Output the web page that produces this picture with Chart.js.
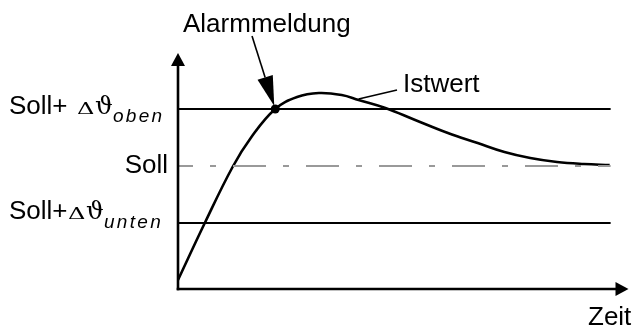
<!DOCTYPE html>
<html><head><meta charset="utf-8">
<script src="https://cdn.jsdelivr.net/npm/chart.js@4/dist/chart.umd.min.js"></script>
<style>html,body{margin:0;padding:0;background:#fff;}#wrap{width:633px;height:329px;position:relative;}</style>
</head><body><div id="wrap"><canvas id="c" width="633" height="329"></canvas></div>
<script>
// Schematic data (arbitrary units)
const timeValues     = [0, 27, 55, 74, 98, 120, 142, 165, 182, 209, 239, 272, 302, 329, 355, 382, 409, 435];
const istwertValues  = [9, 66, 122, 152, 180, 192, 196, 194, 189, 181, 169, 156, 146, 137, 131, 127, 125, 124];
const levelNames     = ['Soll+ Δϑoben', 'Soll', 'Soll+Δϑunten'];
const levelValues    = [180, 123, 66];
const levelEnd       = [0, 436];
const alarmPoint     = [98, 180];
const axisMax        = [454, 236];
const curveLabel     = 'Istwert';
const alarmLabel     = 'Alarmmeldung';
const timeLabel      = 'Zeit';

const SANS = '"Liberation Sans", Arial, sans-serif';
const SERIF = '"DejaVu Serif", "Liberation Serif", serif';

function levelDataset(v, i) {
  const isSoll = i === 1;
  return {
    label: levelNames[i],
    data: levelEnd.map(x => ({x, y: v})),
    showLine: true, pointRadius: 0,
    borderColor: isSoll ? '#999999' : '#000000',
    borderWidth: 2.2,
    borderDash: isSoll ? [33, 17, 6, 17] : [],
    borderDashOffset: isSoll ? 18 : 0,
    borderCapStyle: 'butt'
  };
}

const decor = {
  id: 'decor',
  afterDatasetsDraw(chart) {
    const {ctx, scales: {x, y}} = chart;
    ctx.save();
    ctx.fillStyle = '#000'; ctx.strokeStyle = '#000';
    // axes
    const x0 = x.getPixelForValue(0), y0 = y.getPixelForValue(0);
    const xe = x.getPixelForValue(axisMax[0]), ye = y.getPixelForValue(axisMax[1]);
    ctx.lineWidth = 2.6; ctx.lineCap = 'butt';
    ctx.beginPath(); ctx.moveTo(x0, y0 + 1.3); ctx.lineTo(x0, ye + 10); ctx.stroke();
    ctx.beginPath(); ctx.moveTo(x0 - 1.3, y0); ctx.lineTo(xe - 10, y0); ctx.stroke();
    ctx.beginPath(); ctx.moveTo(x0, ye); ctx.lineTo(x0 - 7, ye + 13); ctx.lineTo(x0 + 7, ye + 13); ctx.closePath(); ctx.fill();
    ctx.beginPath(); ctx.moveTo(xe, y0); ctx.lineTo(xe - 13, y0 - 7); ctx.lineTo(xe - 13, y0 + 7); ctx.closePath(); ctx.fill();

    // level labels
    const yo = y.getPixelForValue(levelValues[0]);
    const ys = y.getPixelForValue(levelValues[1]);
    const yu = y.getPixelForValue(levelValues[2]);
    function greek(xD, base) {
      ctx.save();
      ctx.font = '22px ' + SERIF;
      ctx.translate(xD, base); ctx.scale(1.1, 0.78);
      ctx.textAlign = 'left'; ctx.textBaseline = 'alphabetic';
      ctx.fillText('Δ', 0, 0);
      ctx.restore();
      ctx.font = '25px ' + SERIF;
      ctx.fillText('ϑ', xD + 18, base);
    }
    ctx.textAlign = 'left'; ctx.textBaseline = 'alphabetic';
    ctx.font = '26px ' + SANS;
    ctx.fillText('Soll+', 9, yo + 5);
    greek(77, yo + 5);
    ctx.font = 'italic 19px ' + SANS;
    ctx.letterSpacing = '2.3px';
    ctx.fillText('oben', 113, yo + 13);
    ctx.letterSpacing = '0px';

    ctx.font = '26px ' + SANS;
    ctx.textAlign = 'right';
    ctx.fillText('Soll', 168, ys + 7);
    ctx.textAlign = 'left';

    ctx.fillText('Soll+', 9, yu - 4);
    greek(68, yu - 4);
    ctx.font = 'italic 19px ' + SANS;
    ctx.letterSpacing = '2.3px';
    ctx.fillText('unten', 104, yu + 5);
    ctx.letterSpacing = '0px';

    // annotations
    ctx.font = '26px ' + SANS;
    ctx.fillText(alarmLabel, 183, 32);
    ctx.fillText(curveLabel, 403, 92);
    ctx.fillText(timeLabel, 588, 325);

    // Alarm arrow
    const tx = x.getPixelForValue(alarmPoint[0]) - 1, ty = y.getPixelForValue(alarmPoint[1]) - 3;
    const sx = 252, sy = 36;
    const ang = Math.atan2(ty - sy, tx - sx);
    const L = 30, W = 8;
    const bx = tx - L * Math.cos(ang), by = ty - L * Math.sin(ang);
    ctx.lineWidth = 1.6;
    ctx.beginPath(); ctx.moveTo(sx, sy); ctx.lineTo(bx, by); ctx.stroke();
    ctx.beginPath(); ctx.moveTo(tx, ty);
    ctx.lineTo(bx + W * Math.sin(ang), by - W * Math.cos(ang));
    ctx.lineTo(bx - W * Math.sin(ang), by + W * Math.cos(ang));
    ctx.closePath(); ctx.fill();

    // Istwert leader
    const lx = x.getPixelForValue(timeValues[8]), ly = y.getPixelForValue(istwertValues[8]) - 1;
    ctx.lineWidth = 1.6;
    ctx.beginPath(); ctx.moveTo(lx, ly); ctx.lineTo(397, 90); ctx.stroke();
    ctx.restore();
  }
};

new Chart(document.getElementById('c'), {
  type: 'scatter',
  data: {
    datasets: [
      ...levelValues.map(levelDataset),
      {
        label: curveLabel,
        data: timeValues.map((t, i) => ({x: t, y: istwertValues[i]})),
        showLine: true, pointRadius: 0,
        borderColor: '#000', borderWidth: 2.6,
        tension: 0.4
      },
      {
        label: alarmLabel,
        data: [{x: alarmPoint[0], y: alarmPoint[1]}],
        pointRadius: 4.5, pointBackgroundColor: '#000', pointBorderColor: '#000', pointBorderWidth: 0
      }
    ]
  },
  options: {
    responsive: false, animation: false, devicePixelRatio: 1,
    layout: {padding: {left: 178, top: 53, right: 1, bottom: 40}},
    scales: {
      x: {type: 'linear', min: 0, max: axisMax[0], display: false},
      y: {type: 'linear', min: 0, max: axisMax[1], display: false}
    },
    plugins: {legend: {display: false}, tooltip: {enabled: false}}
  },
  plugins: [decor]
});
</script></body></html>
